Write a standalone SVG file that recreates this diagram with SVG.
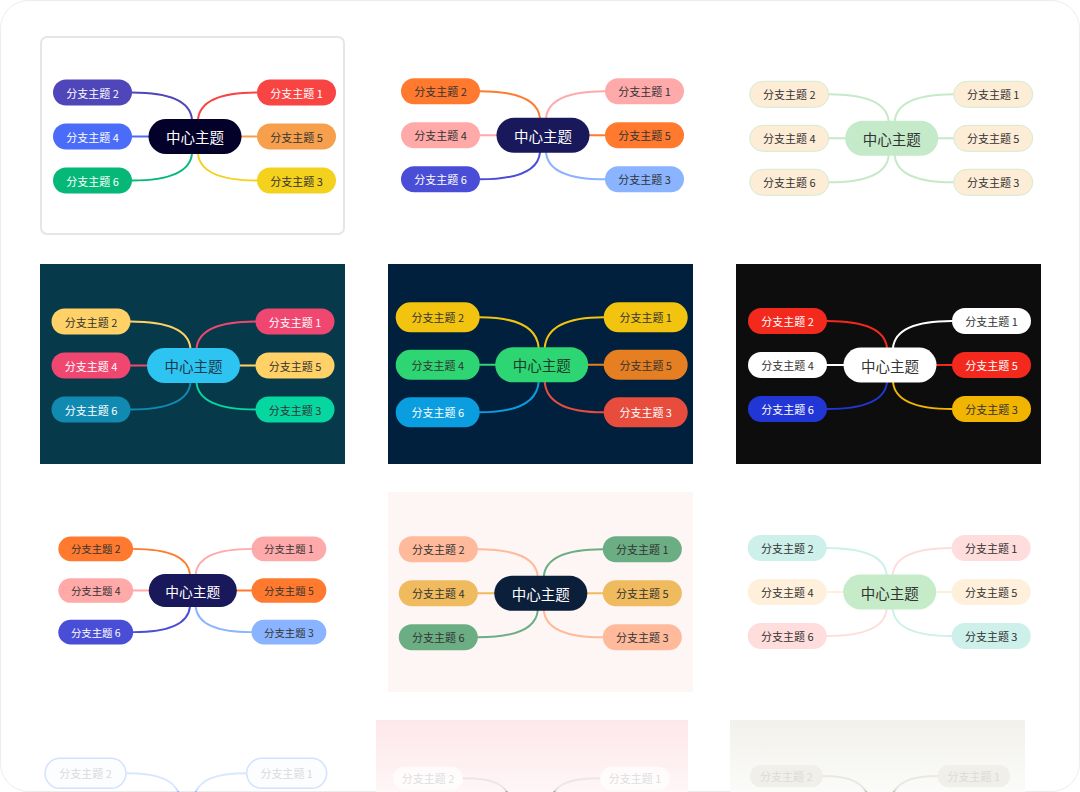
<svg xmlns="http://www.w3.org/2000/svg" xmlns:xlink="http://www.w3.org/1999/xlink" width="1080" height="792" viewBox="0 0 1080 792">
<style>
.c{fill:none;stroke-width:2;stroke-linecap:round}
.bt{font-family:"Noto Sans CJK SC","Noto Sans",sans-serif;font-size:11px;text-anchor:middle;dominant-baseline:central}
.ct{font-family:"Noto Sans CJK SC","Noto Sans",sans-serif;font-size:14.5px;text-anchor:middle;dominant-baseline:central}
.d{fill:#333}
.w{fill:#fff}
</style>
<defs>
<linearGradient id="g11" x1="0" y1="0" x2="0" y2="1"><stop offset="0" stop-color="#fde7ea"/><stop offset="1" stop-color="#fff6f7"/></linearGradient>
<linearGradient id="g12" x1="0" y1="0" x2="0" y2="1"><stop offset="0" stop-color="#f2f1eb"/><stop offset="1" stop-color="#fbfbf9"/></linearGradient>
<linearGradient id="s10" gradientUnits="userSpaceOnUse" x1="0" y1="787" x2="0" y2="794"><stop offset="0" stop-color="#d9e6ff"/><stop offset="0.5" stop-color="#c9dbff"/><stop offset="1" stop-color="#2f7be8"/></linearGradient>
<linearGradient id="s11" gradientUnits="userSpaceOnUse" x1="0" y1="787" x2="0" y2="794"><stop offset="0" stop-color="#e8e8e8"/><stop offset="0.5" stop-color="#dddddd"/><stop offset="1" stop-color="#333333"/></linearGradient>
<linearGradient id="s12" gradientUnits="userSpaceOnUse" x1="0" y1="787" x2="0" y2="794"><stop offset="0" stop-color="#e9e8e1"/><stop offset="0.5" stop-color="#dcdad0"/><stop offset="1" stop-color="#8a8470"/></linearGradient>
<path id="pTL" d="M-63,-44 C-33,-44 -5,-38 -3,-17"/>
<path id="pML" d="M-63,0 H-46"/>
<path id="pBL" d="M-63,44 C-33,44 -5,38 -3,17"/>
<path id="pTR" d="M62,-44 C32,-44 5,-38 3,-17"/>
<path id="pMR" d="M46,0 H62"/>
<path id="pBR" d="M62,44 C32,44 5,38 3,17"/>
</defs>
<rect x="0.5" y="0.5" width="1079" height="791" rx="28" fill="#fff" stroke="#ededed"/>

<!-- Card 1 -->
<rect x="41" y="37" width="303" height="197" rx="6" fill="#fff" stroke="#e6e6e6" stroke-width="2"/>
<g transform="translate(195,136.5)">
<g id="card1-connectors" class="c">
<use href="#pTL" stroke="#4f46ba"/><use href="#pML" stroke="#4a6cf8"/><use href="#pBL" stroke="#05b878"/>
<use href="#pTR" stroke="#f94444"/><use href="#pMR" stroke="#f6a04e"/><use href="#pBR" stroke="#f4d11c"/>
</g>
<g id="c1-center"><rect x="-46.5" y="-17.5" width="93" height="35" rx="17.5" fill="#03002a"/><text class="ct w" x="0" y="0">中心主题</text></g>
<g id="c1-b2"><rect x="-142" y="-57" width="79" height="26" rx="13" fill="#4f46ba"/><text class="bt w" x="-102.5" y="-44">分支主题 2</text></g>
<g id="c1-b4"><rect x="-142" y="-13" width="79" height="26" rx="13" fill="#4a6cf8"/><text class="bt w" x="-102.5" y="0">分支主题 4</text></g>
<g id="c1-b6"><rect x="-142" y="31" width="79" height="26" rx="13" fill="#05b878"/><text class="bt w" x="-102.5" y="44">分支主题 6</text></g>
<g id="c1-b1"><rect x="62" y="-57" width="79" height="26" rx="13" fill="#f94444"/><text class="bt w" x="101.5" y="-44">分支主题 1</text></g>
<g id="c1-b5"><rect x="62" y="-13" width="79" height="26" rx="13" fill="#f6a04e"/><text class="bt d" x="101.5" y="0">分支主题 5</text></g>
<g id="c1-b3"><rect x="62" y="31" width="79" height="26" rx="13" fill="#f4d11c"/><text class="bt d" x="101.5" y="44">分支主题 3</text></g>
</g>

<!-- Card 2 -->
<g transform="translate(543,135.3)">
<g id="card2-connectors" class="c">
<use href="#pTL" stroke="#ff7a2e"/><use href="#pML" stroke="#ffa9a9"/><use href="#pBL" stroke="#4a4ed6"/>
<use href="#pTR" stroke="#ffaaaa"/><use href="#pMR" stroke="#ff7a2e"/><use href="#pBR" stroke="#8ab4ff"/>
</g>
<g id="c2-center"><rect x="-46.5" y="-17.5" width="93" height="35" rx="17.5" fill="#18185a"/><text class="ct w" x="0" y="0">中心主题</text></g>
<g id="c2-b2"><rect x="-142" y="-57" width="79" height="26" rx="13" fill="#ff7a2e"/><text class="bt d" x="-102.5" y="-44">分支主题 2</text></g>
<g id="c2-b4"><rect x="-142" y="-13" width="79" height="26" rx="13" fill="#ffa9a9"/><text class="bt d" x="-102.5" y="0">分支主题 4</text></g>
<g id="c2-b6"><rect x="-142" y="31" width="79" height="26" rx="13" fill="#4a4ed6"/><text class="bt w" x="-102.5" y="44">分支主题 6</text></g>
<g id="c2-b1"><rect x="62" y="-57" width="79" height="26" rx="13" fill="#ffaaaa"/><text class="bt d" x="101.5" y="-44">分支主题 1</text></g>
<g id="c2-b5"><rect x="62" y="-13" width="79" height="26" rx="13" fill="#ff7a2e"/><text class="bt d" x="101.5" y="0">分支主题 5</text></g>
<g id="c2-b3"><rect x="62" y="31" width="79" height="26" rx="13" fill="#8ab4ff"/><text class="bt d" x="101.5" y="44">分支主题 3</text></g>
</g>

<!-- Card 3 -->
<g transform="translate(891.7,138.3)">
<g id="card3-connectors" class="c" stroke="#c6eac9">
<use href="#pTL"/><use href="#pML"/><use href="#pBL"/><use href="#pTR"/><use href="#pMR"/><use href="#pBR"/>
</g>
<g id="c3-center"><rect x="-46.5" y="-17.5" width="93" height="35" rx="17.5" fill="#c4eac9"/><text class="ct d" x="0" y="0">中心主题</text></g>
<g id="c3-b2"><rect x="-142" y="-57" width="79" height="26" rx="13" fill="#fdecd6" stroke="#d3ecd0"/><text class="bt d" x="-102.5" y="-44">分支主题 2</text></g>
<g id="c3-b4"><rect x="-142" y="-13" width="79" height="26" rx="13" fill="#fdecd6" stroke="#d3ecd0"/><text class="bt d" x="-102.5" y="0">分支主题 4</text></g>
<g id="c3-b6"><rect x="-142" y="31" width="79" height="26" rx="13" fill="#fdecd6" stroke="#d3ecd0"/><text class="bt d" x="-102.5" y="44">分支主题 6</text></g>
<g id="c3-b1"><rect x="62" y="-57" width="79" height="26" rx="13" fill="#fdecd6" stroke="#d3ecd0"/><text class="bt d" x="101.5" y="-44">分支主题 1</text></g>
<g id="c3-b5"><rect x="62" y="-13" width="79" height="26" rx="13" fill="#fdecd6" stroke="#d3ecd0"/><text class="bt d" x="101.5" y="0">分支主题 5</text></g>
<g id="c3-b3"><rect x="62" y="31" width="79" height="26" rx="13" fill="#fdecd6" stroke="#d3ecd0"/><text class="bt d" x="101.5" y="44">分支主题 3</text></g>
</g>

<!-- Card 4 -->
<rect x="40" y="264" width="305" height="200" fill="#063a4b"/>
<g transform="translate(193.5,365.5)">
<g id="card4-connectors" class="c">
<use href="#pTL" stroke="#ffd166"/><use href="#pML" stroke="#ef476f"/><use href="#pBL" stroke="#118ab2"/>
<use href="#pTR" stroke="#ef476f"/><use href="#pMR" stroke="#ffd166"/><use href="#pBR" stroke="#06d6a0"/>
</g>
<g id="c4-center"><rect x="-46.5" y="-17.5" width="93" height="35" rx="17.5" fill="#2ec4f2"/><text class="ct" fill="#1d3a4a" x="0" y="0">中心主题</text></g>
<g id="c4-b2"><rect x="-142" y="-57" width="79" height="26" rx="13" fill="#ffd166"/><text class="bt d" x="-102.5" y="-44">分支主题 2</text></g>
<g id="c4-b4"><rect x="-142" y="-13" width="79" height="26" rx="13" fill="#ef476f"/><text class="bt w" x="-102.5" y="0">分支主题 4</text></g>
<g id="c4-b6"><rect x="-142" y="31" width="79" height="26" rx="13" fill="#118ab2"/><text class="bt w" x="-102.5" y="44">分支主题 6</text></g>
<g id="c4-b1"><rect x="62" y="-57" width="79" height="26" rx="13" fill="#ef476f"/><text class="bt w" x="101.5" y="-44">分支主题 1</text></g>
<g id="c4-b5"><rect x="62" y="-13" width="79" height="26" rx="13" fill="#ffd166"/><text class="bt d" x="101.5" y="0">分支主题 5</text></g>
<g id="c4-b3"><rect x="62" y="31" width="79" height="26" rx="13" fill="#06d6a0"/><text class="bt d" x="101.5" y="44">分支主题 3</text></g>
</g>

<!-- Card 5 -->
<rect x="388" y="264" width="305" height="200" fill="#01203d"/>
<g transform="translate(541.7,364.8)">
<g id="card5-connectors" class="c">
<path d="M-62,-47.5 C-32,-47.5 -5,-41 -3,-17" stroke="#f2c30f"/>
<path d="M-62,0 H-46" stroke="#2dd672"/>
<path d="M-62,47.5 C-32,47.5 -5,41 -3,17" stroke="#0a9de0"/>
<path d="M62,-47.5 C32,-47.5 5,-41 3,-17" stroke="#f2c30f"/>
<path d="M46,0 H62" stroke="#e67e22"/>
<path d="M62,47.5 C32,47.5 5,41 3,17" stroke="#e74c3c"/>
</g>
<g id="c5-center"><rect x="-46.5" y="-17.5" width="93" height="35" rx="17.5" fill="#2dd672"/><text class="ct" fill="#1f3a2a" x="0" y="0">中心主题</text></g>
<g id="c5-b2"><rect x="-146" y="-62.5" width="84" height="30" rx="15" fill="#f2c30f"/><text class="bt d" x="-104" y="-47.5">分支主题 2</text></g>
<g id="c5-b4"><rect x="-146" y="-15" width="84" height="30" rx="15" fill="#2dd672"/><text class="bt d" x="-104" y="0">分支主题 4</text></g>
<g id="c5-b6"><rect x="-146" y="32.5" width="84" height="30" rx="15" fill="#0a9de0"/><text class="bt w" x="-104" y="47.5">分支主题 6</text></g>
<g id="c5-b1"><rect x="62" y="-62.5" width="84" height="30" rx="15" fill="#f2c30f"/><text class="bt d" x="104" y="-47.5">分支主题 1</text></g>
<g id="c5-b5"><rect x="62" y="-15" width="84" height="30" rx="15" fill="#e67e22"/><text class="bt d" x="104" y="0">分支主题 5</text></g>
<g id="c5-b3"><rect x="62" y="32.5" width="84" height="30" rx="15" fill="#e74c3c"/><text class="bt w" x="104" y="47.5">分支主题 3</text></g>
</g>

<!-- Card 6 -->
<rect x="736" y="264" width="305" height="200" fill="#0d0d0d"/>
<g transform="translate(890,365)">
<g id="card6-connectors" class="c">
<use href="#pTL" stroke="#f4291d"/><use href="#pML" stroke="#ffffff"/><use href="#pBL" stroke="#2236d6"/>
<use href="#pTR" stroke="#ffffff"/><use href="#pMR" stroke="#f4291d"/><use href="#pBR" stroke="#f1b500"/>
</g>
<g id="c6-center"><rect x="-46.5" y="-17.5" width="93" height="35" rx="17.5" fill="#fff"/><text class="ct d" x="0" y="0">中心主题</text></g>
<g id="c6-b2"><rect x="-142" y="-57" width="79" height="26" rx="13" fill="#f4291d"/><text class="bt w" x="-102.5" y="-44">分支主题 2</text></g>
<g id="c6-b4"><rect x="-142" y="-13" width="79" height="26" rx="13" fill="#fff"/><text class="bt d" x="-102.5" y="0">分支主题 4</text></g>
<g id="c6-b6"><rect x="-142" y="31" width="79" height="26" rx="13" fill="#2236d6"/><text class="bt w" x="-102.5" y="44">分支主题 6</text></g>
<g id="c6-b1"><rect x="62" y="-57" width="79" height="26" rx="13" fill="#fff"/><text class="bt d" x="101.5" y="-44">分支主题 1</text></g>
<g id="c6-b5"><rect x="62" y="-13" width="79" height="26" rx="13" fill="#f4291d"/><text class="bt w" x="101.5" y="0">分支主题 5</text></g>
<g id="c6-b3"><rect x="62" y="31" width="79" height="26" rx="13" fill="#f1b500"/><text class="bt d" x="101.5" y="44">分支主题 3</text></g>
</g>

<!-- Card 7 -->
<g transform="translate(192.8,590.5) scale(0.947)">
<g id="card7-connectors" class="c">
<use href="#pTL" stroke="#ff7a2e"/><use href="#pML" stroke="#ffa9a9"/><use href="#pBL" stroke="#4a4ed6"/>
<use href="#pTR" stroke="#ffaaaa"/><use href="#pMR" stroke="#ff7a2e"/><use href="#pBR" stroke="#8ab4ff"/>
</g>
<g id="c7-center"><rect x="-46.5" y="-17.5" width="93" height="35" rx="17.5" fill="#18185a"/><text class="ct w" x="0" y="0">中心主题</text></g>
<g id="c7-b2"><rect x="-142" y="-57" width="79" height="26" rx="13" fill="#ff7a2e"/><text class="bt d" x="-102.5" y="-44">分支主题 2</text></g>
<g id="c7-b4"><rect x="-142" y="-13" width="79" height="26" rx="13" fill="#ffa9a9"/><text class="bt d" x="-102.5" y="0">分支主题 4</text></g>
<g id="c7-b6"><rect x="-142" y="31" width="79" height="26" rx="13" fill="#4a4ed6"/><text class="bt w" x="-102.5" y="44">分支主题 6</text></g>
<g id="c7-b1"><rect x="62" y="-57" width="79" height="26" rx="13" fill="#ffaaaa"/><text class="bt d" x="101.5" y="-44">分支主题 1</text></g>
<g id="c7-b5"><rect x="62" y="-13" width="79" height="26" rx="13" fill="#ff7a2e"/><text class="bt d" x="101.5" y="0">分支主题 5</text></g>
<g id="c7-b3"><rect x="62" y="31" width="79" height="26" rx="13" fill="#8ab4ff"/><text class="bt d" x="101.5" y="44">分支主题 3</text></g>
</g>

<!-- Card 8 -->
<rect x="388" y="492" width="305" height="200" fill="#fdf6f4"/>
<g transform="translate(540.8,593.3)">
<g id="card8-connectors" class="c">
<use href="#pTL" stroke="#ffba9b"/><use href="#pML" stroke="#f0bb5e"/><use href="#pBL" stroke="#6cae84"/>
<use href="#pTR" stroke="#6cae84"/><use href="#pMR" stroke="#f0bb5e"/><use href="#pBR" stroke="#ffba9b"/>
</g>
<g id="c8-center"><rect x="-46.5" y="-17.5" width="93" height="35" rx="17.5" fill="#0b1e3a"/><text class="ct w" x="0" y="0">中心主题</text></g>
<g id="c8-b2"><rect x="-142" y="-57" width="79" height="26" rx="13" fill="#ffba9b"/><text class="bt d" x="-102.5" y="-44">分支主题 2</text></g>
<g id="c8-b4"><rect x="-142" y="-13" width="79" height="26" rx="13" fill="#f0bb5e"/><text class="bt d" x="-102.5" y="0">分支主题 4</text></g>
<g id="c8-b6"><rect x="-142" y="31" width="79" height="26" rx="13" fill="#6cae84"/><text class="bt d" x="-102.5" y="44">分支主题 6</text></g>
<g id="c8-b1"><rect x="62" y="-57" width="79" height="26" rx="13" fill="#6cae84"/><text class="bt d" x="101.5" y="-44">分支主题 1</text></g>
<g id="c8-b5"><rect x="62" y="-13" width="79" height="26" rx="13" fill="#f0bb5e"/><text class="bt d" x="101.5" y="0">分支主题 5</text></g>
<g id="c8-b3"><rect x="62" y="31" width="79" height="26" rx="13" fill="#ffba9b"/><text class="bt d" x="101.5" y="44">分支主题 3</text></g>
</g>

<!-- Card 9 -->
<g transform="translate(889.7,592)">
<g id="card9-connectors" class="c">
<use href="#pTL" stroke="#cdf0ea"/><use href="#pML" stroke="#fff0dc"/><use href="#pBL" stroke="#ffdddd"/>
<use href="#pTR" stroke="#ffdddd"/><use href="#pMR" stroke="#fff0dc"/><use href="#pBR" stroke="#cdf0ea"/>
</g>
<g id="c9-center"><rect x="-46.5" y="-17.5" width="93" height="35" rx="17.5" fill="#c5ebc9"/><text class="ct d" x="0" y="0">中心主题</text></g>
<g id="c9-b2"><rect x="-142" y="-57" width="79" height="26" rx="13" fill="#cdf0ea"/><text class="bt d" x="-102.5" y="-44">分支主题 2</text></g>
<g id="c9-b4"><rect x="-142" y="-13" width="79" height="26" rx="13" fill="#fff0dc"/><text class="bt d" x="-102.5" y="0">分支主题 4</text></g>
<g id="c9-b6"><rect x="-142" y="31" width="79" height="26" rx="13" fill="#ffdddd"/><text class="bt d" x="-102.5" y="44">分支主题 6</text></g>
<g id="c9-b1"><rect x="62" y="-57" width="79" height="26" rx="13" fill="#ffdddd"/><text class="bt d" x="101.5" y="-44">分支主题 1</text></g>
<g id="c9-b5"><rect x="62" y="-13" width="79" height="26" rx="13" fill="#fff0dc"/><text class="bt d" x="101.5" y="0">分支主题 5</text></g>
<g id="c9-b3"><rect x="62" y="31" width="79" height="26" rx="13" fill="#cdf0ea"/><text class="bt d" x="101.5" y="44">分支主题 3</text></g>
</g>

<!-- Card 10 (faded) -->
<g id="card10-connectors" class="c" stroke-width="1.5">
<path d="M126,773.3 C155,773.3 177,778 181,800" stroke="url(#s10)"/>
<path d="M246.7,773.3 C218,773.3 197,778 193,800" stroke="url(#s10)"/>
</g>
<g id="c10-b2"><rect x="45" y="758.3" width="81" height="30" rx="15" fill="#fcfdff" stroke="#d2e2ff" stroke-width="1.5"/><text class="bt" fill="#dadada" x="85.5" y="773.3">分支主题 2</text></g>
<g id="c10-b1"><rect x="246.7" y="758.3" width="80" height="30" rx="15" fill="#fcfdff" stroke="#d2e2ff" stroke-width="1.5"/><text class="bt" fill="#dadada" x="286.7" y="773.3">分支主题 1</text></g>

<!-- Card 11 (faded) -->
<rect x="376" y="720" width="312" height="72" fill="url(#g11)"/>
<g id="card11-connectors" class="c" stroke-width="1.5">
<path d="M463,778.3 C490,778.3 505,782 511,800" stroke="url(#s11)"/>
<path d="M600,778.3 C573,778.3 556,782 550,800" stroke="url(#s11)"/>
</g>
<g id="c11-b2"><rect x="393" y="766.7" width="70" height="23.3" rx="11.6" fill="#fff" fill-opacity="0.7"/><text class="bt" fill="#dedede" font-size="10.5" x="428" y="778.3">分支主题 2</text></g>
<g id="c11-b1"><rect x="600" y="766.7" width="70" height="23.3" rx="11.6" fill="#fff" fill-opacity="0.7"/><text class="bt" fill="#dedede" font-size="10.5" x="635" y="778.3">分支主题 1</text></g>

<!-- Card 12 (faded) -->
<rect x="730" y="720" width="295" height="72" fill="url(#g12)"/>
<g id="card12-connectors" class="c" stroke-width="1.5">
<path d="M822.7,776 C848,776 864,781 870,800" stroke="url(#s12)"/>
<path d="M937.7,776 C912,776 896,781 890,800" stroke="url(#s12)"/>
</g>
<g id="c12-b2"><rect x="750" y="765" width="72.7" height="22.3" rx="11.2" fill="#f0efe9"/><text class="bt" fill="#dddcd5" font-size="10.5" x="786.3" y="776.2">分支主题 2</text></g>
<g id="c12-b1"><rect x="937.7" y="765" width="72.3" height="22.3" rx="11.2" fill="#f0efe9"/><text class="bt" fill="#dddcd5" font-size="10.5" x="973.8" y="776.2">分支主题 1</text></g>
</svg>
